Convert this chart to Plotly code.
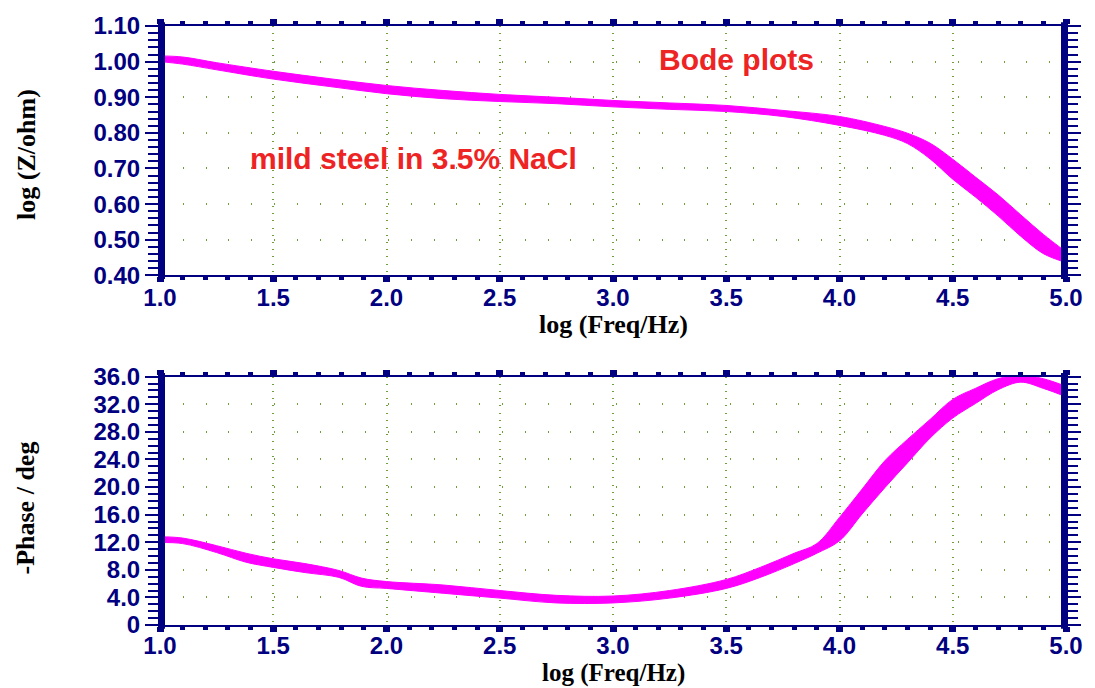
import plotly.graph_objects as go

# ---------------- data ----------------
x_mag = [1.0, 1.1, 1.25, 1.5, 1.75, 2.0, 2.25, 2.5, 2.75, 3.0, 3.25, 3.5, 3.75,
         4.0, 4.2, 4.3, 4.4, 4.5, 4.6, 4.7, 4.8, 4.9, 5.0]
logz_upper = [1.016, 1.013, 0.997, 0.973, 0.952, 0.933, 0.919, 0.908, 0.900, 0.891,
              0.884, 0.877, 0.863, 0.846, 0.818, 0.799, 0.771, 0.726, 0.676, 0.626,
              0.570, 0.515, 0.466]
logz_lower = [1.000, 0.993, 0.977, 0.951, 0.930, 0.910, 0.896, 0.888, 0.882, 0.873,
              0.866, 0.860, 0.846, 0.821, 0.793, 0.770, 0.727, 0.670, 0.620, 0.567,
              0.510, 0.461, 0.436]

x_ph = [1.0, 1.1, 1.25, 1.38, 1.5, 1.64, 1.79, 1.89, 2.0, 2.25, 2.5, 2.75, 3.0, 3.25,
        3.5, 3.65, 3.8, 3.9, 4.0, 4.1, 4.2, 4.3, 4.4, 4.5, 4.6, 4.7, 4.8, 4.9, 5.0]
phase_upper = [12.8, 12.6, 11.5, 10.4, 9.6, 8.9, 7.9, 6.8, 6.3, 5.8, 5.0, 4.3, 4.2, 5.0,
               6.6, 8.35, 10.4, 11.8, 15.6, 19.7, 23.8, 26.9, 29.8, 32.7, 34.3, 35.7,
               36.2, 35.7, 34.6]
phase_lower = [11.95, 11.8, 10.5, 9.1, 8.35, 7.6, 6.9, 5.6, 5.3, 4.6, 3.9, 3.2, 3.2, 3.9,
               5.3, 6.9, 8.9, 10.4, 12.2, 16.1, 19.9, 23.5, 27.1, 30.0, 32.1, 34.1,
               35.2, 34.3, 33.1]

x_ticks = [1.0, 1.5, 2.0, 2.5, 3.0, 3.5, 4.0, 4.5, 5.0]
z_ticks = [0.40, 0.50, 0.60, 0.70, 0.80, 0.90, 1.00, 1.10]
ph_ticks = [0, 4, 8, 12, 16, 20, 24, 28, 32, 36]
ph_ticktext = ["0", "4.0", "8.0", "12.0", "16.0", "20.0", "24.0", "28.0", "32.0", "36.0"]

title_top = "Bode plots"
subtitle = "mild steel in 3.5% NaCl"

# ---------------- style ----------------
NAVY = "#000080"
MAG = "#FF00FF"
GRID = "#6f9f3f"
RED = "#ee2424"
tickfont = dict(family="Liberation Sans", size=24, color=NAVY, weight="bold")
titlefont = dict(family="Liberation Serif", size=26, color="black", weight="bold")
titlefont_b = dict(family="Liberation Serif", size=25, color="black", weight="bold")
notefont = dict(family="Liberation Sans", size=30, color=RED, weight="bold")

fig = go.Figure()

# magnitude band
fig.add_trace(go.Scatter(x=x_mag, y=logz_upper, mode="lines", line=dict(color=MAG, width=1, shape="spline"),
                         xaxis="x", yaxis="y", showlegend=False, hoverinfo="skip"))
fig.add_trace(go.Scatter(x=x_mag, y=logz_lower, mode="lines", line=dict(color=MAG, width=1, shape="spline"),
                         fill="tonexty", fillcolor=MAG, xaxis="x", yaxis="y", showlegend=False))
# phase band
fig.add_trace(go.Scatter(x=x_ph, y=phase_upper, mode="lines", line=dict(color=MAG, width=1, shape="spline"),
                         xaxis="x2", yaxis="y2", showlegend=False, hoverinfo="skip"))
fig.add_trace(go.Scatter(x=x_ph, y=phase_lower, mode="lines", line=dict(color=MAG, width=1, shape="spline"),
                         fill="tonexty", fillcolor=MAG, xaxis="x2", yaxis="y2", showlegend=False))


def xaxis_cfg(anchor, standoff):
    return dict(
        anchor=anchor, domain=[0, 1], range=[1.0, 5.0],
        tickvals=x_ticks, tickformat=".1f", tickfont=tickfont, ticklabelstandoff=standoff,
        ticks="outside", ticklen=5, tickwidth=7, tickcolor=NAVY,
        showline=True, linecolor=NAVY, linewidth=2, mirror="ticks",
        showgrid=True, gridcolor=GRID, gridwidth=1.5, griddash="1px,6.2px",
        zeroline=False,
        minor=dict(dtick=0.1, ticks="outside", ticklen=3, tickwidth=5, tickcolor=NAVY, showgrid=False),
    )


def yaxis_cfg(anchor, domain, rng, tickvals, minor_dtick, griddash, **kw):
    return dict(
        anchor=anchor, domain=domain, range=rng, tickvals=tickvals, tickfont=tickfont,
        ticks="outside", ticklen=13, tickwidth=2, tickcolor=NAVY,
        showline=True, linecolor=NAVY, linewidth=2, mirror="ticks",
        showgrid=True, gridcolor=GRID, gridwidth=1.5, griddash=griddash,
        zeroline=False,
        minor=dict(dtick=minor_dtick, ticks="outside", ticklen=10, tickwidth=1.5, tickcolor=NAVY, showgrid=False),
        **kw,
    )


fig.update_layout(
    width=1095, height=688,
    margin=dict(l=160, r=24, t=22, b=63),
    paper_bgcolor="white", plot_bgcolor="white",
    xaxis=xaxis_cfg("y", -5),
    yaxis=yaxis_cfg("x", [0.5837, 1.0], [0.40, 1.10], z_ticks, 0.02, "1px,21.8px", tickformat=".2f"),
    xaxis2=xaxis_cfg("y2", -7),
    yaxis2=yaxis_cfg("x2", [0.0, 0.4146], [0, 36], ph_ticks, 1, "1px,21.8px", ticktext=ph_ticktext),
)

# thick navy bars on left/right edges
for xr, yr in (("x", "y domain"), ("x2", "y2 domain")):
    for xv in (1.0, 5.0):
        fig.add_shape(type="line", xref=xr, yref=yr, x0=xv, x1=xv, y0=-0.015, y1=1.015,
                      line=dict(color=NAVY, width=10), layer="above")

# axis titles
fig.add_annotation(text="log (Freq/Hz)", xref="paper", yref="paper", x=0.5, y=0.5025,
                   showarrow=False, font=titlefont, xanchor="center", yanchor="middle")
fig.add_annotation(text="log (Freq/Hz)", xref="paper", yref="paper", x=0.5, y=-0.0796,
                   showarrow=False, font=titlefont_b, xanchor="center", yanchor="middle")
fig.add_annotation(text="log (Z/ohm)", xref="paper", yref="paper", x=-0.1482, y=0.786,
                   showarrow=False, font=titlefont, textangle=-90, xanchor="center", yanchor="middle")
fig.add_annotation(text="-Phase / deg", xref="paper", yref="paper", x=-0.1482, y=0.1957,
                   showarrow=False, font=titlefont, textangle=-90, xanchor="center", yanchor="middle")

# in-plot labels
fig.add_annotation(text=title_top, xref="x", yref="y", x=3.544, y=1.005, showarrow=False, font=notefont)
fig.add_annotation(text=subtitle, xref="x", yref="y", x=2.118, y=0.729, showarrow=False, font=notefont)

fig.write_html("out.html")
